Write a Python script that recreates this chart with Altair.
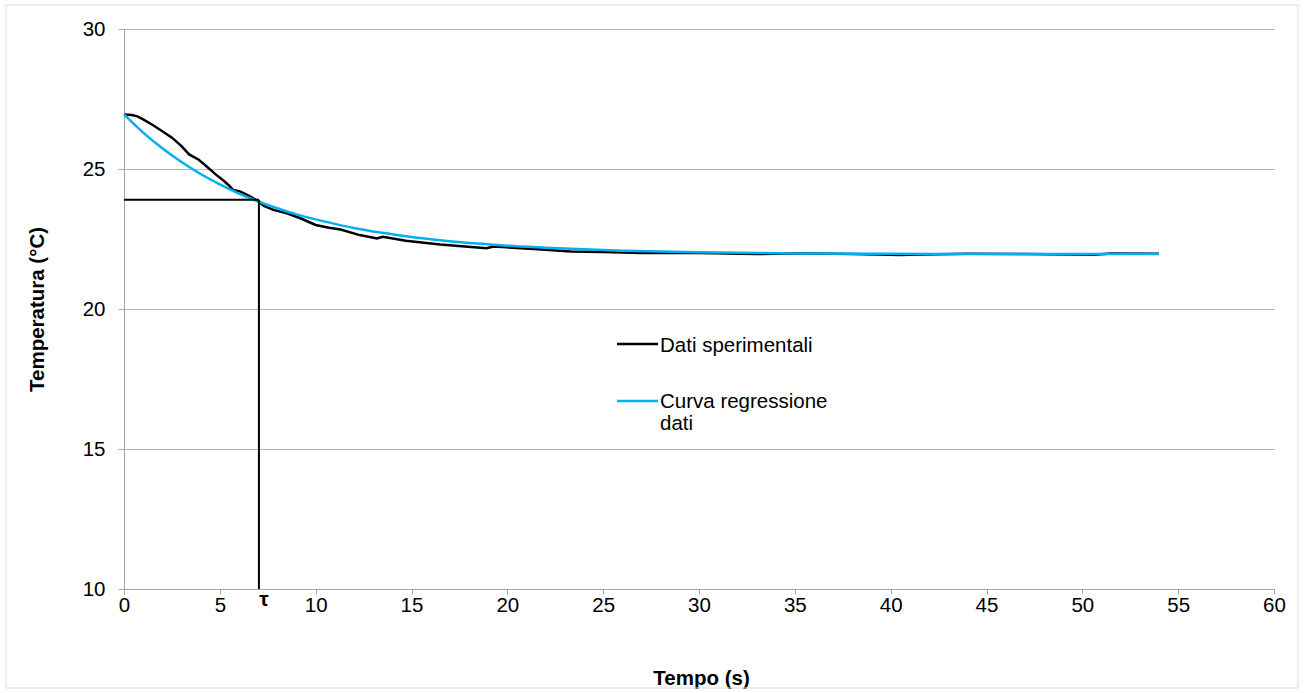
import altair as alt
import pandas as pd

# Experimental data (black)
t_exp = [0, 0.4, 0.7, 1.0, 1.5, 2.0, 2.5, 3.0, 3.4, 3.9, 4.3, 4.8, 5.2, 5.45, 5.7, 6.05,
         6.5, 6.9, 7.3, 7.8, 8.5, 9.2, 10.0, 10.7, 11.3, 12.3, 13.2, 13.5, 14.7, 16.5,
         18.9, 19.3, 21.6, 23.3, 25, 27, 28, 30, 33, 34, 35, 38, 40.5, 41, 44, 47,
         50.6, 51.5, 54]
T_exp = [26.95, 26.93, 26.88, 26.77, 26.57, 26.35, 26.12, 25.82, 25.52, 25.33, 25.1,
         24.8, 24.58, 24.43, 24.25, 24.2, 24.05, 23.89, 23.68, 23.54, 23.42, 23.24,
         23.0, 22.9, 22.84, 22.64, 22.52, 22.58, 22.44, 22.3, 22.17, 22.23, 22.13,
         22.05, 22.04, 22.0, 22.0, 22.0, 21.96, 21.97, 21.99, 21.96, 21.93, 21.94,
         21.97, 21.96, 21.94, 21.98, 21.97]

# Regression curve (light blue)
t_reg = [0, 1, 2, 3, 4, 5, 6, 7, 8, 9, 10, 11, 12, 13, 14, 15, 16, 17, 18, 19, 20,
         22, 24, 26, 28, 30, 33, 36, 40, 45, 50, 54]
T_reg = [26.95, 26.30, 25.74, 25.25, 24.82, 24.45, 24.12, 23.84, 23.60, 23.38, 23.20,
         23.04, 22.89, 22.77, 22.67, 22.57, 22.49, 22.42, 22.36, 22.31, 22.26, 22.19,
         22.13, 22.08, 22.05, 22.03, 22.00, 21.98, 21.97, 21.96, 21.96, 21.96]

tau_t = [7.04]
tau_T = [23.9]
y_ticks = [10, 15, 20, 25, 30]
x_ticks = [0, 5, 10, 15, 20, 25, 30, 35, 40, 45, 50, 55, 60]
legend_labels = ["Dati sperimentali", "Curva regressione", "dati"]

FONT = "Liberation Sans"
BLUE = "#00b0f0"
FS = 20.5

df_exp = pd.DataFrame({"t": t_exp, "T": T_exp})
df_reg = pd.DataFrame({"t": t_reg, "T": T_reg})
df_tau = pd.DataFrame({"t0": [0], "t": tau_t, "T": tau_T, "Tmin": [10], "lab": ["τ"]})
one = pd.DataFrame({"a": [0]})

xs = alt.Scale(domain=[0, 60], nice=False)
ys = alt.Scale(domain=[10, 30], nice=False)

x_axis = alt.Axis(values=x_ticks, grid=False, title="Tempo (s)", titleX=577, titleY=89,
                  titleBaseline="middle", tickSize=5, labelPadding=1, labelFlush=False)
y_axis = alt.Axis(values=y_ticks, grid=True, title="Temperatura (°C)", titleX=-87,
                  titleY=280, titleAngle=-90, titleAlign="center",
                  titleBaseline="middle", tickSize=6, labelPadding=13, labelFlush=False)

border = alt.Chart(one).mark_rect(fillOpacity=0, stroke="#d9d9d9", strokeWidth=1,
                                  clip=False).encode(
    x=alt.value(-118), x2=alt.value(1174), y=alt.value(-24), y2=alt.value(659))

black = alt.Chart(df_exp).mark_line(color="black", strokeWidth=2.5).encode(
    x=alt.X("t:Q", scale=xs, axis=x_axis),
    y=alt.Y("T:Q", scale=ys, axis=y_axis))

blue = alt.Chart(df_reg).mark_line(color=BLUE, strokeWidth=2.5, interpolate="monotone").encode(
    x=alt.X("t:Q", scale=xs), y=alt.Y("T:Q", scale=ys))

hrule = alt.Chart(df_tau).mark_rule(color="black", strokeWidth=2).encode(
    x=alt.X("t0:Q", scale=xs), x2="t:Q", y=alt.Y("T:Q", scale=ys))
vrule = alt.Chart(df_tau).mark_rule(color="black", strokeWidth=2).encode(
    x=alt.X("t:Q", scale=xs), y=alt.Y("Tmin:Q", scale=ys), y2="T:Q")
tau_text = alt.Chart(df_tau).mark_text(font=FONT, fontSize=21, fontWeight="bold",
                                       align="center", baseline="alphabetic", dx=5,
                                       clip=False).encode(
    x=alt.X("t:Q", scale=xs), y=alt.value(577), text="lab:N")

leg_black = alt.Chart(one).mark_rule(color="black", strokeWidth=2.5).encode(
    x=alt.value(493), x2=alt.value(534), y=alt.value(315))
leg_blue = alt.Chart(one).mark_rule(color=BLUE, strokeWidth=2.5).encode(
    x=alt.value(493), x2=alt.value(534), y=alt.value(372))
leg_df = pd.DataFrame({"lab": legend_labels, "yy": [322.5, 379, 401]})
leg_text = alt.Chart(leg_df).mark_text(font=FONT, fontSize=FS, align="left",
                                       baseline="alphabetic", color="black").encode(
    x=alt.value(536), y=alt.Y("yy:Q", scale=None), text="lab:N")

chart = alt.layer(border, black, blue, hrule, vrule, tau_text,
                  leg_black, leg_blue, leg_text).properties(
    width=1150, height=560,
    autosize=alt.AutoSizeParams(type="none"),
    padding={"left": 124, "top": 29, "right": 31, "bottom": 104},
    background="white",
).configure_view(stroke=None).configure_axis(
    labelFont=FONT, titleFont=FONT, labelFontSize=FS, titleFontSize=FS,
    titleFontWeight="bold", labelColor="black", titleColor="black",
    domainColor="#a6a6a6", tickColor="#a6a6a6", gridColor="#b3b3b3",
    domainWidth=1, tickWidth=1, gridWidth=1, labelFontWeight="normal"
)

chart.save("out.html", embed_options={"renderer": "svg", "actions": False})
